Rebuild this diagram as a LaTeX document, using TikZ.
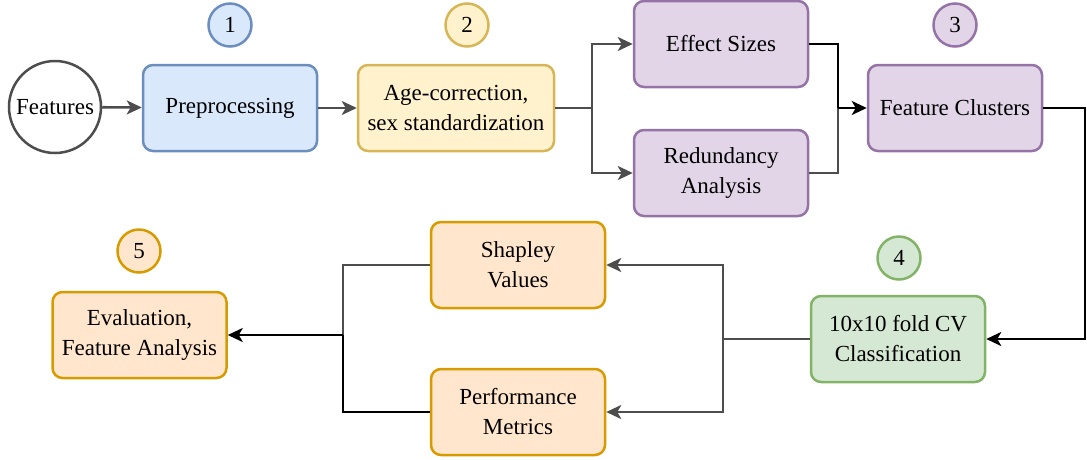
\documentclass[tikz,border=0pt]{standalone}
\usepackage{fontspec}
\setmainfont{Liberation Serif}
\usetikzlibrary{arrows.meta}
\definecolor{blueF}{HTML}{DAE8FC}\definecolor{blueD}{HTML}{6C8EBF}
\definecolor{yelF}{HTML}{FFF2CC}\definecolor{yelD}{HTML}{D6B656}
\definecolor{purF}{HTML}{E1D5E7}\definecolor{purD}{HTML}{9673A6}
\definecolor{grnF}{HTML}{D5E8D4}\definecolor{grnD}{HTML}{82B366}
\definecolor{orF}{HTML}{FFE6CC}\definecolor{orD}{HTML}{D79B00}
\definecolor{lineG}{HTML}{4D4D4D}
\begin{document}
\begin{tikzpicture}[x=1pt,y=-1pt,
  txt/.style={font=\fontsize{23}{30}\selectfont, align=center},
  box/.style={txt, draw, rounded corners=10pt, line width=2.5pt, minimum width=174pt, minimum height=86pt, inner sep=0pt},
  num/.style={txt, circle, draw, line width=2.5pt, minimum size=43pt, inner sep=0pt},
  gline/.style={draw=lineG, line width=2.6pt},
  bline/.style={draw=black, line width=2.6pt},
  garr/.style={gline, -{Stealth[length=15pt,width=14pt,inset=4pt]}},
  barr/.style={bline, -{Stealth[length=15pt,width=14pt,inset=4pt]}}
]
\useasboundingbox (0,0) rectangle (1087,459);
% nodes
\node[txt, circle, draw=lineG, line width=2.5pt, minimum size=92pt, inner sep=0pt] (feat) at (55,107) {Features};
\node[box, fill=blueF, draw=blueD] (pre) at (230,108) {Preprocessing};
\node[num, fill=blueF, draw=blueD] (n1) at (230,25) {1};
\node[box, fill=yelF, draw=yelD, minimum width=196pt] (age) at (456,108) {Age-correction,\\sex standardization};
\node[num, fill=yelF, draw=yelD] (n2) at (467,25) {2};
\node[box, fill=purF, draw=purD] (eff) at (721,44) {Effect Sizes};
\node[box, fill=purF, draw=purD] (red) at (721,173) {Redundancy\\Analysis};
\node[box, fill=purF, draw=purD] (clu) at (955,108) {Feature Clusters};
\node[num, fill=purF, draw=purD] (n3) at (955,25) {3};
\node[box, fill=grnF, draw=grnD] (cls) at (898,339) {10x10 fold CV\\Classification};
\node[num, fill=grnF, draw=grnD] (n4) at (899,258) {4};
\node[box, fill=orF, draw=orD] (shap) at (518,265) {Shapley\\Values};
\node[box, fill=orF, draw=orD] (perf) at (518,412) {Performance\\Metrics};
\node[box, fill=orF, draw=orD] (eval) at (139.5,335) {Evaluation,\\Feature Analysis};
\node[num, fill=orF, draw=orD] (n5) at (139,251) {5};
% junctions
\coordinate (f1) at (592,108);
\coordinate (m1) at (838,108);
\coordinate (c1) at (1085,108);
\coordinate (s1) at (723,339);
\coordinate (s2) at (343,335);
% connectors
\draw[garr] (feat) -- (pre);
\draw[garr] (pre) -- (age);
\draw[gline] (age.east) -- (f1);
\draw[garr] (f1) |- (eff.west);
\draw[garr] (f1) |- (red.west);
\draw[gline] (red.east) -| (m1);
\draw[bline] (eff.east) -| (m1);
\draw[barr] (m1) -- (clu.west);
\draw[barr] (clu.east) -- (c1) |- (cls.east);
\draw[gline] (cls.west) -- (s1);
\draw[garr] (s1) |- (shap.east);
\draw[garr] (s1) |- (perf.east);
\draw[gline] (shap.west) -| (s2);
\draw[bline] (perf.west) -| (s2);
\draw[barr] (s2) -- (eval.east);
\end{tikzpicture}
\end{document}
